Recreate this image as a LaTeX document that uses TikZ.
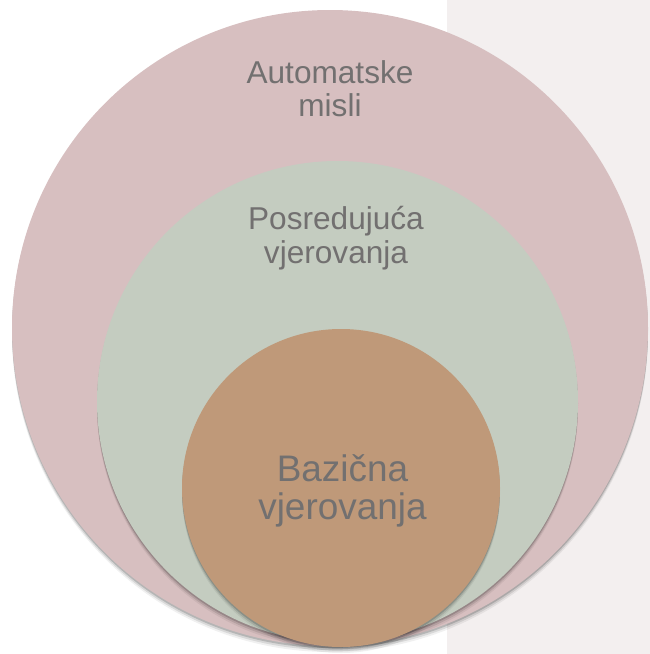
\documentclass[tikz,border=0pt]{standalone}
\usepackage{fontspec}
\setmainfont{Liberation Sans}
\usepackage{tikz}
\usetikzlibrary{shadows}
\definecolor{panelgray}{HTML}{F3EFEF}
\definecolor{misliPink}{HTML}{D7BFC0}
\definecolor{posredGreen}{HTML}{C4CCC0}
\definecolor{bazBrown}{HTML}{BF9979}
\definecolor{labelGray}{HTML}{727070}

\begin{document}
\begin{tikzpicture}[x=0.75pt,y=-0.75pt,
    softshadow/.style={drop shadow={shadow xshift=0pt,shadow yshift=-1.5pt,opacity=.16,fill=black},
        drop shadow={shadow xshift=0pt,shadow yshift=-3pt,opacity=.1,fill=black},
        drop shadow={shadow xshift=0pt,shadow yshift=-4.5pt,opacity=.06,fill=black}},
    ringtext/.style={text=labelGray,align=center,font=\fontsize{23.7}{25}\selectfont},
    coretext/.style={text=labelGray,align=center,font=\fontsize{27.7}{28.5}\selectfont}]
    \useasboundingbox (0,0) rectangle (650,654);
    \fill[panelgray] (447,0) rectangle (650,654);
    \fill[misliPink,softshadow] (330,328) circle [radius=318];
    \fill[posredGreen,softshadow] (337.5,401.5) circle [radius=240.5];
    \fill[bazBrown,softshadow] (341,488) circle [radius=159];
    \node[ringtext] (misli) at (330,89) {Automatske\\misli};
    \node[ringtext] (posred) at (336,238) {Posredujuća\\vjerovanja};
    \node[coretext] (bazicna) at (342.5,491) {Bazična\\vjerovanja};
\end{tikzpicture}
\end{document}
